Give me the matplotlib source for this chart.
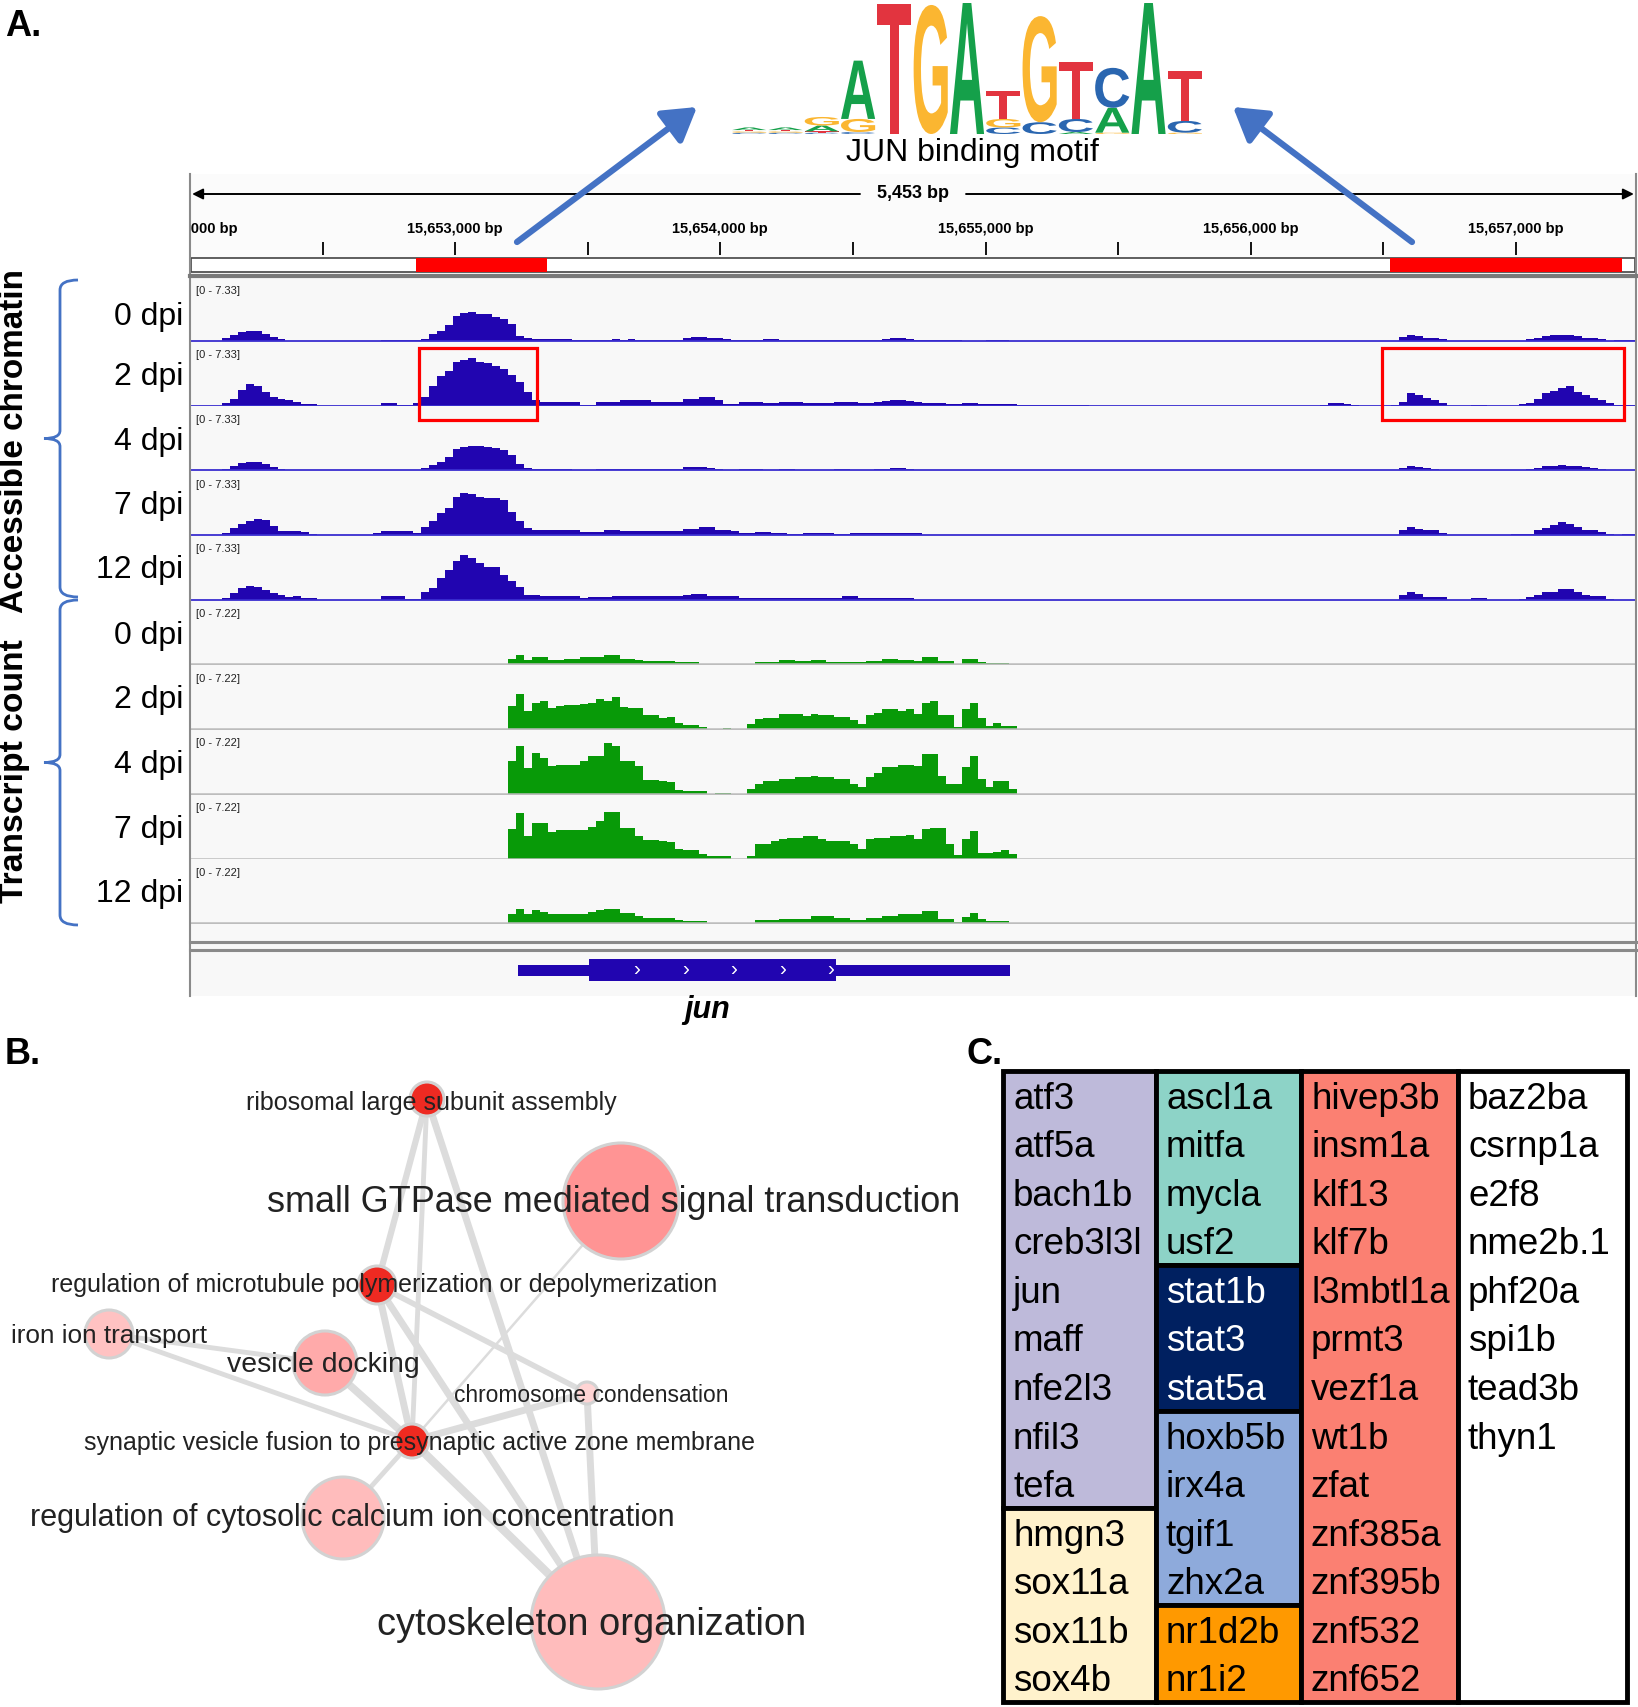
import numpy as np
import matplotlib
matplotlib.use('Agg')
import matplotlib.pyplot as plt
from matplotlib.patches import Rectangle, Circle, PathPatch
from matplotlib.path import Path
from matplotlib.textpath import TextPath
from matplotlib.font_manager import FontProperties
import matplotlib.transforms as mtransforms

plt.rcParams['font.family'] = ['Liberation Sans', 'DejaVu Sans']

# ---------------- data ----------------
START, END = 15652000, 15657453     # genomic window (bp)
BIN = 30                            # coverage bin size (bp)
NBINS = 182

# sequence logo (bits) per position
motif_A = [0.04, 0.04, 0.09, 0.89, 0.0, 0.0, 2.0, 0.0, 0.0, 0.03, 0.38, 2.0, 0.0]
motif_C = [0.02, 0.02, 0.02, 0.03, 0.0, 0.0, 0.0, 0.10, 0.18, 0.20, 0.61, 0.0, 0.18]
motif_G = [0.02, 0.02, 0.13, 0.20, 0.0, 1.97, 0.0, 0.13, 1.62, 0.0, 0.02, 0.0, 0.02]
motif_T = [0.02, 0.02, 0.02, 0.0, 1.98, 0.0, 0.0, 0.42, 0.0, 0.87, 0.0, 0.0, 0.76]

# ruler / features
ruler_ticks = [15652500, 15653000, 15653500, 15654000, 15654500, 15655000,
               15655500, 15656000, 15656500, 15657000]
ruler_labels = [15652000, 15653000, 15654000, 15655000, 15656000, 15657000]
motif_sites = [(15652853, 15653347), (15656525, 15657400)]
jun_utr = (15653238, 15655094)
jun_cds = (15653506, 15654438)
jun_strand_marks = [15653683, 15653868, 15654049, 15654234, 15654415]

# coverage tracks: (first bin, values)
atac_0dpi = [
    (4, [0.38, 0.64, 1.0, 1.2, 1.2, 0.8, 0.45, 0.2]),
    (24, [0.08, 0.08, 0.08, 0.08]),
    (28, [0.1, 0.2, 0.75, 1.1, 1.8, 2.9, 3.2, 3.3, 3.1, 3.1, 2.8, 2.5, 2.0, 0.6, 0.3, 0.2]),
    (44, [0.2, 0.2, 0.2, 0.2, 0.1, 0.1, 0.1, 0.1, 0.1, 0.2, 0.1, 0.2, 0.1, 0.1, 0.1, 0.1, 0.1, 0.1]),
    (62, [0.4, 0.45, 0.45, 0.4, 0.3, 0.2, 0.1, 0.1, 0.1, 0.1, 0.2, 0.2, 0.1, 0.1, 0.1, 0.1]),
    (78, [0.1, 0.1, 0.1, 0.1, 0.1, 0.1, 0.1, 0.1, 0.1, 0.2, 0.3, 0.3, 0.2, 0.1, 0.1, 0.1,
          0.1, 0.1, 0.1, 0.05, 0.05, 0.05, 0.1, 0.1, 0.1, 0.05, 0.05, 0.05, 0.05, 0.05]),
    (152, [0.49, 0.68, 0.57, 0.38, 0.3, 0.19]),
    (168, [0.19, 0.38, 0.57, 0.68, 0.68, 0.68, 0.57, 0.38, 0.3, 0.19, 0.05, 0.1, 0.1, 0.1]),
]
atac_2dpi = [
    (4, [0.26, 0.8, 1.8, 2.45, 2.3, 1.6, 1.0, 0.8, 0.6, 0.45, 0.25, 0.15]),
    (24, [0.26, 0.26, 0.1, 0.1]),
    (28, [0.26, 1.0, 2.3, 3.4, 4.0, 5.0, 5.2, 5.5, 5.0, 4.9, 4.6, 4.2, 3.5, 2.7, 1.6, 0.7]),
    (44, [0.45, 0.45, 0.45, 0.45, 0.45, 0.1, 0.1, 0.45, 0.45, 0.45, 0.6, 0.6, 0.6, 0.6,
          0.45, 0.45, 0.45, 0.45, 0.8, 0.8, 1.0, 1.0, 0.6, 0.15, 0.15, 0.45, 0.45, 0.45]),
    (72, [0.3, 0.3, 0.4, 0.4, 0.4, 0.3, 0.3, 0.3, 0.3, 0.4, 0.4, 0.4, 0.3, 0.3, 0.4, 0.5,
          0.6, 0.6, 0.5, 0.4, 0.3, 0.3, 0.3, 0.2, 0.2, 0.3, 0.3, 0.2, 0.2, 0.2, 0.2, 0.2,
          0.1, 0.1, 0.1, 0.1, 0.1, 0.05, 0.05, 0.05, 0.05]),
    (142, [0.1, 0.26, 0.26, 0.15, 0.1]),
    (151, [0.1, 0.45, 1.4, 1.28, 0.9, 0.64, 0.26]),
    (161, [0.1, 0.1]),
    (167, [0.15, 0.3, 0.8, 1.4, 1.7, 2.0, 2.3, 1.6, 1.2, 0.9, 0.6, 0.3, 0.1, 0.05, 0.05]),
]
atac_4dpi = [
    (4, [0.2, 0.45, 0.8, 1.0, 1.0, 0.7, 0.4, 0.2, 0.1]),
    (24, [0.1, 0.1, 0.05, 0.05]),
    (28, [0.1, 0.3, 0.6, 1.0, 1.5, 2.4, 2.7, 2.8, 2.8, 2.7, 2.6, 2.3, 1.8, 0.7, 0.3, 0.2]),
    (44, [0.2, 0.2, 0.15, 0.15, 0.1, 0.1, 0.1, 0.15, 0.15, 0.2, 0.2, 0.2, 0.15, 0.15,
          0.15, 0.15, 0.2, 0.2, 0.35, 0.35, 0.4, 0.3, 0.2, 0.1, 0.1, 0.15, 0.15, 0.15]),
    (72, [0.1, 0.1, 0.15, 0.15, 0.1, 0.1, 0.1, 0.1, 0.1, 0.15, 0.15, 0.1, 0.1, 0.1, 0.15,
          0.2, 0.25, 0.25, 0.2, 0.1, 0.1, 0.1, 0.1, 0.05, 0.05, 0.1, 0.1, 0.05, 0.05]),
    (152, [0.3, 0.45, 0.4, 0.3, 0.2, 0.1]),
    (168, [0.15, 0.3, 0.45, 0.5, 0.6, 0.55, 0.45, 0.35, 0.25, 0.15, 0.1]),
]
atac_7dpi = [
    (4, [0.26, 0.8, 1.3, 1.6, 1.8, 1.7, 1.0, 0.5, 0.45, 0.45, 0.4, 0.1]),
    (23, [0.26, 0.45, 0.45, 0.45, 0.45, 0.2]),
    (29, [0.9, 1.6, 2.5, 3.1, 4.4, 4.8, 4.7, 4.4, 4.2, 4.2, 4.0, 2.7, 1.6, 0.8, 0.57]),
    (44, [0.57, 0.57, 0.57, 0.57, 0.57, 0.38, 0.38, 0.38, 0.64, 0.6, 0.5, 0.5, 0.5, 0.45,
          0.45, 0.45, 0.45, 0.45, 0.7, 0.7, 0.9, 0.9, 0.64, 0.64, 0.45, 0.26, 0.26, 0.38,
          0.38, 0.26, 0.26, 0.15, 0.15, 0.19, 0.19, 0.19, 0.19, 0.08, 0.08, 0.19, 0.19,
          0.19, 0.19, 0.19, 0.19, 0.19, 0.19, 0.19]),
    (152, [0.53, 0.9, 0.75, 0.57, 0.57, 0.26]),
    (166, [0.15, 0.15, 0.15, 0.53, 0.83, 1.2, 1.47, 1.3, 0.9, 0.64, 0.53, 0.38, 0.1, 0.0, 0.15, 0.15]),
]
atac_12dpi = [
    (4, [0.19, 0.75, 1.4, 1.6, 1.5, 1.1, 0.75, 0.57, 0.3, 0.38, 0.26, 0.26]),
    (24, [0.38, 0.38, 0.38, 0.1]),
    (28, [0.1, 0.9, 1.4, 2.5, 3.4, 4.5, 5.1, 4.8, 4.2, 3.8, 3.8, 2.8, 2.1, 1.5, 0.57, 0.57]),
    (44, [0.38, 0.38, 0.38, 0.38, 0.38, 0.2, 0.3, 0.3, 0.3, 0.38, 0.38, 0.38, 0.38, 0.38,
          0.38, 0.38, 0.38, 0.38, 0.57, 0.7, 0.7, 0.38, 0.38, 0.38, 0.38, 0.19, 0.19, 0.19,
          0.19, 0.19, 0.19, 0.19, 0.19, 0.19, 0.19, 0.19, 0.19, 0.19, 0.38, 0.38, 0.19,
          0.19, 0.19, 0.19, 0.19, 0.19, 0.19]),
    (152, [0.5, 0.87, 0.64, 0.3, 0.3, 0.3]),
    (161, [0.19, 0.19]),
    (167, [0.1, 0.3, 0.5, 0.87, 0.87, 1.25, 1.25, 0.87, 0.5, 0.38, 0.38, 0.1]),
]
rna_0dpi = [
    (40, [0.67, 1.04, 0.48, 0.86, 0.86, 0.48, 0.48, 0.67, 0.67, 0.86, 0.86, 0.86, 1.04,
          1.04, 0.67, 0.67, 0.48, 0.35, 0.35, 0.35, 0.35, 0.3, 0.28, 0.28]),
    (71, [0.3, 0.3, 0.3, 0.48, 0.48, 0.37, 0.37, 0.48, 0.48, 0.3, 0.3, 0.3, 0.3, 0.25,
          0.37, 0.37, 0.6, 0.6, 0.48, 0.48, 0.37, 0.86, 0.86, 0.37, 0.37, 0.0, 0.67, 0.67,
          0.3, 0.2, 0.2, 0.2]),
]
rna_2dpi = [
    (40, [2.6, 4.0, 2.0, 3.0, 3.2, 2.4, 2.6, 2.7, 2.7, 2.8, 3.0, 3.35, 3.2, 3.65, 2.5,
          2.4, 2.4, 1.6, 1.56, 1.3, 1.38, 0.74, 0.45, 0.45, 0.2]),
    (67, [0.15]),
    (70, [0.56, 1.1, 1.3, 1.3, 1.67, 1.67, 1.67, 1.5, 1.67, 1.56, 1.56, 1.4, 1.4, 1.04,
          0.56, 1.56, 1.79, 2.23, 2.23, 2.0, 2.23, 1.67, 3.0, 3.2, 1.56, 1.56, 0.3, 2.23,
          2.9, 1.3, 0.37, 0.74, 0.37, 0.37]),
]
rna_4dpi = [
    (40, [3.7, 5.4, 2.9, 4.6, 4.1, 3.1, 3.3, 3.3, 3.3, 3.7, 4.3, 4.3, 5.7, 5.4, 3.7, 3.7,
          3.1, 1.56, 1.56, 1.5, 1.3, 0.48, 0.37, 0.37, 0.37]),
    (66, [0.1, 0.1]),
    (70, [0.56, 1.1, 1.5, 1.5, 1.67, 1.67, 1.86, 1.86, 2.05, 1.86, 1.86, 1.67, 1.67, 1.1,
          0.74, 1.86, 2.4, 3.0, 3.0, 3.3, 3.3, 3.1, 4.5, 4.5, 2.05, 1.1, 1.1, 3.0, 4.3,
          1.67, 0.74, 1.5, 1.5, 0.56]),
]
rna_7dpi = [
    (40, [3.3, 5.1, 2.6, 4.0, 4.0, 3.0, 3.2, 3.2, 3.2, 3.2, 3.6, 4.2, 5.3, 5.3, 3.5, 3.5,
          2.5, 2.1, 2.1, 2.0, 1.86, 1.04, 0.97, 0.97, 0.48, 0.3, 0.3, 0.3]),
    (70, [0.3, 1.6, 1.7, 2.0, 2.2, 2.35, 2.35, 2.5, 2.6, 2.16, 2.0, 2.0, 2.0, 1.6, 1.04,
          2.16, 2.3, 2.3, 2.5, 2.5, 2.7, 2.2, 3.35, 3.5, 3.5, 1.6, 0.37, 2.2, 3.1, 0.67,
          0.67, 0.74, 0.97, 0.48]),
]
rna_12dpi = [
    (40, [1.0, 1.64, 1.0, 1.5, 1.27, 1.0, 1.0, 1.0, 1.0, 1.0, 1.27, 1.5, 1.64, 1.64, 1.2,
          1.2, 0.82, 0.55, 0.55, 0.55, 0.55, 0.32, 0.3, 0.3, 0.3]),
    (71, [0.37, 0.37, 0.37, 0.52, 0.52, 0.52, 0.52, 0.82, 0.82, 0.82, 0.63, 0.63, 0.37,
          0.37, 0.63, 0.63, 0.82, 0.82, 1.0, 1.0, 1.0, 1.38, 1.38, 0.52, 0.52, 0.15, 0.74,
          1.2, 0.52, 0.3, 0.3, 0.3]),
]
track_names = ['0 dpi', '2 dpi', '4 dpi', '7 dpi', '12 dpi']
atac_tracks = [atac_0dpi, atac_2dpi, atac_4dpi, atac_7dpi, atac_12dpi]
rna_tracks = [rna_0dpi, rna_2dpi, rna_4dpi, rna_7dpi, rna_12dpi]
ATAC_MAX, RNA_MAX = 7.33, 7.22

# GO network
go_terms = ['ribosomal large subunit assembly', 'small GTPase mediated signal transduction',
            'regulation of microtubule polymerization or depolymerization', 'iron ion transport',
            'vesicle docking', 'chromosome condensation',
            'synaptic vesicle fusion to presynaptic active zone membrane',
            'regulation of cytosolic calcium ion concentration', 'cytoskeleton organization']
go_x = [427, 621, 377, 109, 325, 587, 412, 343, 598]
go_y = [1099, 1201, 1285, 1334, 1363, 1393, 1441, 1518, 1622]
go_size = [17, 58, 19, 24, 32, 11, 17, 41, 67]
go_color = ['#ee2a22', '#ff9494', '#ee2a22', '#ffc2c2', '#ffaaaa', '#ffd4d4', '#f02a20',
            '#ffbcbc', '#ffbcbc']
go_label_x = [431, 614, 384, 109, 323, 591, 420, 352, 592]
go_label_y = [1103, 1202, 1285, 1336, 1365, 1396, 1443, 1518, 1625]
go_label_w = [371, 692, 667, 196, 192, 272, 671, 645, 428]
go_edges = [(0, 2, 4.5), (0, 6, 3.5), (0, 8, 5.0), (2, 6, 5.0), (2, 8, 5.0), (2, 5, 4.0),
            (1, 6, 1.8), (3, 4, 3.5), (3, 6, 3.5), (4, 6, 5.5), (5, 6, 5.0), (5, 8, 5.0),
            (6, 7, 3.5), (6, 8, 6.0)]

# TF table
col1_lavender = ['atf3', 'atf5a', 'bach1b', 'creb3l3l', 'jun', 'maff', 'nfe2l3', 'nfil3', 'tefa']
col1_cream = ['hmgn3', 'sox11a', 'sox11b', 'sox4b']
col2_teal = ['ascl1a', 'mitfa', 'mycla', 'usf2']
col2_navy = ['stat1b', 'stat3', 'stat5a']
col2_blue = ['hoxb5b', 'irx4a', 'tgif1', 'zhx2a']
col2_orange = ['nr1d2b', 'nr1i2']
col3_salmon = ['hivep3b', 'insm1a', 'klf13', 'klf7b', 'l3mbtl1a', 'prmt3', 'vezf1a', 'wt1b',
               'zfat', 'znf385a', 'znf395b', 'znf532', 'znf652']
col4_white = ['baz2ba', 'csrnp1a', 'e2f8', 'nme2b.1', 'phf20a', 'spi1b', 'tead3b', 'thyn1']

# ---------------- figure ----------------
W, H = 1638, 1707
fig = plt.figure(figsize=(W / 100, H / 100), dpi=100)
renderer = fig.canvas.get_renderer()


def px_axes(x0, y0, x1, y1, zorder=1):
    ax = fig.add_axes([x0 / W, 1 - y1 / H, (x1 - x0) / W, (y1 - y0) / H], zorder=zorder)
    return ax


def fit_text(ax, x, y, s, size_px, vertical=False, **kw):
    t = ax.text(x, y, s, fontsize=20, **kw)
    bb = t.get_window_extent(renderer=renderer)
    t.set_fontsize(20 * size_px / (bb.height if vertical else bb.width))
    return t


def expand(segs):
    v = np.zeros(NBINS)
    for b, vals in segs:
        v[b:b + len(vals)] = vals
    return v


# background / overlay in pixel coordinates
bg = px_axes(0, 0, W, H, zorder=0)
bg.set_xlim(0, W); bg.set_ylim(H, 0); bg.axis('off')
bg.add_patch(Rectangle((190, 174), 1446, 822, fc='#f8f8f8', ec='none'))
bg.add_patch(Rectangle((190, 174), 1446, 101, fc='#fbfbfb', ec='none'))

ov = px_axes(0, 0, W, H, zorder=20)
ov.set_xlim(0, W); ov.set_ylim(H, 0); ov.axis('off')
ov.patch.set_alpha(0)

# ---- sequence logo ----
lg = px_axes(731, 3, 1203, 134, zorder=2)
lg.set_xlim(0, 13); lg.set_ylim(0, 2); lg.axis('off')
fp_logo = FontProperties(family='Liberation Sans', weight='bold')
logo_colors = {'A': '#15a04a', 'C': '#2a66b0', 'G': '#fbb631', 'T': '#e2343f'}
for i in range(13):
    stack = sorted([('A', motif_A[i]), ('C', motif_C[i]), ('G', motif_G[i]), ('T', motif_T[i])],
                   key=lambda p: p[1])
    y = 0
    for ch, h in stack:
        if h <= 0:
            continue
        tp = TextPath((0, 0), ch, size=1, prop=fp_logo)
        bb = tp.get_extents()
        tr = (mtransforms.Affine2D().translate(-bb.x0, -bb.y0)
              .scale(0.94 / bb.width, h / bb.height).translate(i + 0.03, y))
        lg.add_patch(PathPatch(tr.transform_path(tp), fc=logo_colors[ch], ec='none'))
        y += h
fit_text(ov, 972, 153, 'JUN binding motif', 252, ha='center', va='center')

# ---- ruler ----
ru = px_axes(190, 174, 1636, 275, zorder=2)
ru.set_xlim(START, END); ru.set_ylim(275, 174); ru.axis('off')
ru.vlines(ruler_ticks, 242, 255, color='k', lw=1.3)
for v in ruler_labels:
    ru.text(v, 229, f'{v:,} bp', ha='center', va='center', fontsize=10.5,
            fontweight='bold', clip_on=True)
mid = (START + END) / 2
ru.text(mid, 194, f'{END - START:,} bp', ha='center', va='center', fontsize=13,
        fontweight='bold')
ru.annotate('', xy=(START + 8, 194), xytext=(mid - 200, 194),
            arrowprops=dict(arrowstyle='-|>', color='k', lw=1.4, mutation_scale=16,
                            shrinkA=0, shrinkB=0))
ru.annotate('', xy=(END - 8, 194), xytext=(mid + 200, 194),
            arrowprops=dict(arrowstyle='-|>', color='k', lw=1.4, mutation_scale=16,
                            shrinkA=0, shrinkB=0))
ru.add_patch(Rectangle((START + 4, 258), END - START - 8, 14, fc='white', ec='#444444', lw=1.2))
for s, e in motif_sites:
    ru.add_patch(Rectangle((s, 258), e - s, 14, fc='#ff0000', ec='none'))

# ---- coverage tracks ----
TRACK_TOP, TRACK_H = 277, 64.7
edges = START + BIN * np.arange(NBINS + 1)
all_tracks = [(t, 'atac') for t in atac_tracks] + [(t, 'rna') for t in rna_tracks]
for i, (segs, kind) in enumerate(all_tracks):
    top = TRACK_TOP + i * TRACK_H
    ax = px_axes(190, top, 1636, top + TRACK_H, zorder=2)
    ax.patch.set_alpha(0)
    vmax = ATAC_MAX if kind == 'atac' else RNA_MAX
    ax.set_xlim(START, END); ax.set_ylim(-0.08, vmax)
    ax.axis('off')
    col = '#2105b0' if kind == 'atac' else '#089a08'
    ax.stairs(expand(segs), edges, fill=True, color=col, lw=0)
    ax.axhline(0, color='#3a2ed0' if kind == 'atac' else '#bdbdbd',
               lw=1.3 if kind == 'atac' else 1.8)
    ax.text(0.004, 0.79, f'[0 - {vmax}]', transform=ax.transAxes, fontsize=8,
            va='center', ha='left', color='#222222')

# ---- gene track ----
gn = px_axes(190, 950, 1636, 996, zorder=2)
gn.set_xlim(START, END); gn.set_ylim(996, 950); gn.axis('off')
gn.add_patch(Rectangle((jun_utr[0], 964.5), jun_utr[1] - jun_utr[0], 11, fc='#2105b0', ec='none'))
gn.add_patch(Rectangle((jun_cds[0], 959), jun_cds[1] - jun_cds[0], 22, fc='#2105b0', ec='none'))
for p in jun_strand_marks:
    gn.text(p, 969, '›', color='white', fontsize=15, ha='center', va='center')
ov.text(707, 1010, 'jun', fontsize=22, fontweight='bold', fontstyle='italic',
        ha='center', va='center')

# IGV frame lines
ov.plot([190, 190], [174, 996], color='#8a8a8a', lw=1.5)
ov.plot([1636, 1636], [174, 996], color='#8a8a8a', lw=1.5)
ov.plot([190, 1636], [275.5, 275.5], color='#7a7a7a', lw=3)
ov.plot([190, 1636], [942, 942], color='#8a8a8a', lw=2.2)
ov.plot([190, 1636], [950, 950], color='#8a8a8a', lw=2.2)

# highlight boxes
ov.add_patch(Rectangle((419, 348), 118, 72, fill=False, ec='#ff0000', lw=2.3))
ov.add_patch(Rectangle((1382, 348), 242, 72, fill=False, ec='#ff0000', lw=2.3))

# arrows to motif
for (x0, y0, x1, y1) in [(517, 242, 697, 107), (1412, 242, 1233, 107)]:
    ov.annotate('', xy=(x1, y1), xytext=(x0, y0),
                arrowprops=dict(arrowstyle='-|>,head_length=0.9,head_width=0.55',
                                color='#4472c4', lw=4.5, mutation_scale=22,
                                shrinkA=0, shrinkB=0))

# track labels
atac_label_y = [317, 377, 442, 506, 570]
rna_label_y = [636, 700, 765, 830, 894]
for name, y in zip(track_names, atac_label_y):
    ov.text(183, y, name, fontsize=23, ha='right', va='center')
for name, y in zip(track_names, rna_label_y):
    ov.text(183, y, name, fontsize=23, ha='right', va='center')


def brace(y0, y1, xt=44, xs=60, xe=78):
    ym = (y0 + y1) / 2
    codes = [Path.MOVETO, Path.CURVE3, Path.CURVE3, Path.LINETO, Path.CURVE3, Path.CURVE3,
             Path.CURVE3, Path.CURVE3, Path.LINETO, Path.CURVE3, Path.CURVE3]
    verts = [(xe, y0), (xs, y0), (xs, y0 + 10), (xs, ym - 8), (xs, ym), (xt, ym),
             (xs, ym), (xs, ym + 8), (xs, y1 - 10), (xs, y1), (xe, y1)]
    ov.add_patch(PathPatch(Path(verts, codes), fc='none', ec='#4472c4', lw=2))


brace(280, 597)
brace(600, 925)
narrow = ['Liberation Sans Narrow', 'Liberation Sans', 'DejaVu Sans']
fit_text(ov, 15, 441, 'Accessible chromatin', 343, vertical=True, rotation=90,
         ha='center', va='center', fontweight='bold', family=narrow)
fit_text(ov, 15, 771, 'Transcript count', 263, vertical=True, rotation=90,
         ha='center', va='center', fontweight='bold', family=narrow)

# panel letters
ov.text(5, 27, 'A.', fontsize=26, fontweight='bold', va='center')
ov.text(5, 1054, 'B.', fontsize=26, fontweight='bold', va='center')
ov.text(966, 1054, 'C.', fontsize=26, fontweight='bold', va='center')

# ---- B: GO network ----
net = px_axes(0, 1040, 980, 1707, zorder=2)
net.set_xlim(0, 980); net.set_ylim(1707, 1040); net.axis('off')
for a, b, w in go_edges:
    net.plot([go_x[a], go_x[b]], [go_y[a], go_y[b]], color='#dcdcdc', lw=w,
             solid_capstyle='butt', zorder=1)
for x, y, r, c in zip(go_x, go_y, go_size, go_color):
    net.add_patch(Circle((x, y), r, fc=c, ec='#d2d2d2', lw=2.2, zorder=2))
for s, x, y, w in zip(go_terms, go_label_x, go_label_y, go_label_w):
    fit_text(net, x, y, s, w, ha='center', va='center', color='#222222',
             family=narrow, zorder=3)

# ---- C: TF table ----
tb = px_axes(1003, 1071, 1627, 1702, zorder=2)
tb.set_xlim(1003, 1627); tb.set_ylim(1702, 1071); tb.axis('off')
col_x = [1003, 1156, 1301, 1458, 1627]
row_h = (1702 - 1071) / 13
table_blocks = [
    (0, 0, col1_lavender, '#bebada', 'black'),
    (0, 9, col1_cream, '#fff2cc', 'black'),
    (1, 0, col2_teal, '#8dd3c7', 'black'),
    (1, 4, col2_navy, '#002060', 'white'),
    (1, 7, col2_blue, '#8eaadb', 'black'),
    (1, 11, col2_orange, '#ff9900', 'black'),
    (2, 0, col3_salmon, '#fb8072', 'black'),
    (3, 0, col4_white, 'white', 'black'),
]
for c, r0, genes, fc, tc in table_blocks:
    nrows = 13 if c == 3 else len(genes)
    tb.add_patch(Rectangle((col_x[c], 1071 + r0 * row_h), col_x[c + 1] - col_x[c],
                           nrows * row_h, fc=fc, ec='black', lw=3.5, clip_on=False))
    for k, g in enumerate(genes):
        tb.text(col_x[c] + 10, 1071 + (r0 + k + 0.5) * row_h + 4, g, fontsize=26.5,
                color=tc, va='center', ha='left')

fig.savefig('out.png', dpi=100)
